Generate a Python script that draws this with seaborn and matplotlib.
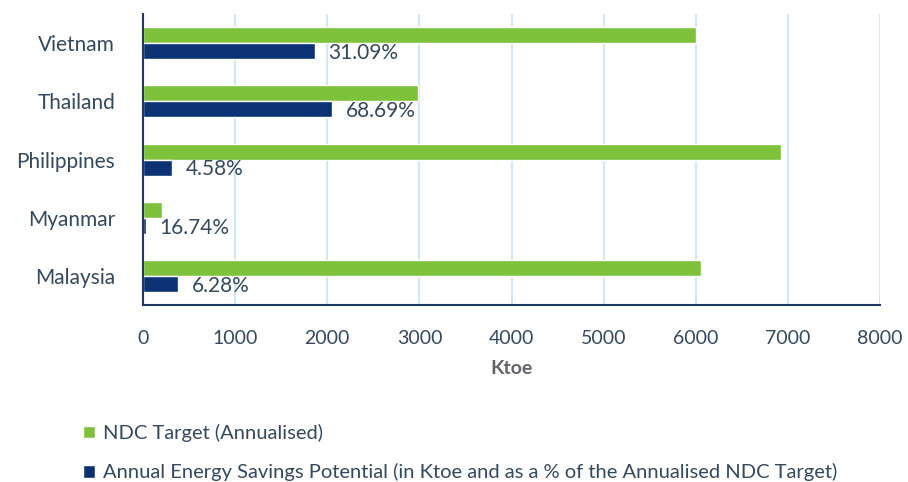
import pandas as pd
import seaborn as sb
import matplotlib.pyplot as plt

# Данные

countries = ["Vietnam", "Thailand", "Philippines", "Myanmar", "Malaysia"]
ndc_target = [6000, 2990, 6920, 206, 6055]
savings = [1865, 2054, 317, 34.5, 380]
pct_labels = ["31.09%", "68.69%", "4.58%", "16.74%", "6.28%"]

ndc_name = "NDC Target (Annualised)"
sav_name = "Annual Energy Savings Potential (in Ktoe and as a % of the Annualised NDC Target)"

df = pd.DataFrame({
    "country": countries * 2,
    "ktoe": ndc_target + savings,
    "series": [ndc_name] * len(countries) + [sav_name] * len(countries),
})

green = "#7dc23a"
navy = "#0a3275"
text_col = "#34485e"

sb.set_style("white")
plt.rcParams["font.family"] = ["Lato", "DejaVu Sans"]

fig = plt.figure(figsize=(9.08, 4.82), dpi=100)
ax = fig.add_axes([0.1575, 0.367, 0.8117, 0.604])

sb.barplot(data=df, y="country", x="ktoe", hue="series", order=countries,
           hue_order=[ndc_name, sav_name], palette=[green, navy],
           width=0.55, orient="h", ax=ax, legend=True, saturation=1)

# Подписи процентов

for i, (v, lab) in enumerate(zip(savings, pct_labels)):
    ax.text(v + 145, i + 0.17, lab, va="center", ha="left", fontsize=15, color=text_col)

ax.set_xlim(0, 8000)
ax.set_ylim(4.5, -0.5)
ax.set_xticks(range(0, 8001, 1000))
ax.grid(True, axis="x", color="#cfe9f9", linewidth=1.5)
ax.set_axisbelow(True)
ax.tick_params(axis="x", labelsize=14, labelcolor=text_col, pad=18, length=0)
ax.tick_params(axis="y", labelsize=15, labelcolor=text_col, pad=20, length=0)
ax.set_ylabel("")
ax.set_xlabel("Ktoe", fontsize=14, fontweight="bold", color="#606468", labelpad=9)

for s in ["top", "right"]:
    ax.spines[s].set_visible(False)
for s in ["left", "bottom"]:
    ax.spines[s].set_color("#1f3864")
    ax.spines[s].set_linewidth(1.5)

handles, labels = ax.get_legend_handles_labels()
ax.get_legend().remove()
fig.legend(handles, labels, loc="upper left", bbox_to_anchor=(0.071, 0.158),
           frameon=False, fontsize=14.5, labelcolor=text_col, handlelength=0.6,
           handleheight=0.6, handletextpad=0.4, labelspacing=1.05)

fig.savefig("out.png", dpi=100)
